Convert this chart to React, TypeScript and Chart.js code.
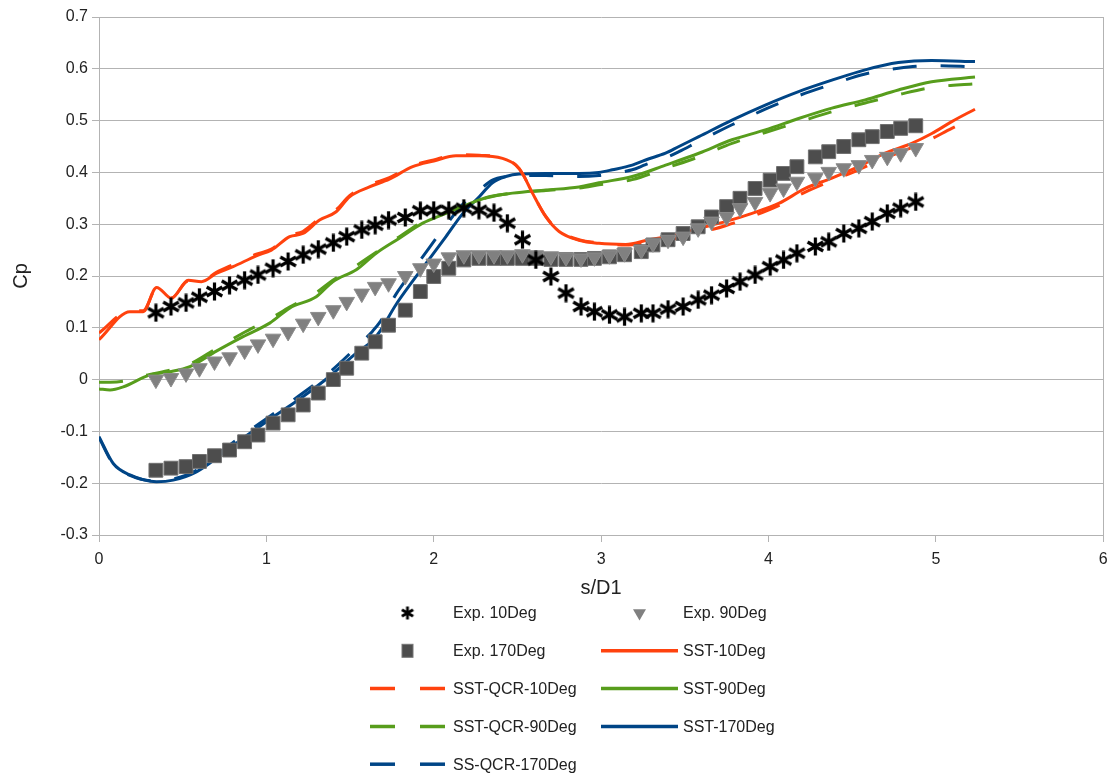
import React, { useEffect, useRef } from 'react';
import { Chart, registerables } from 'chart.js';

Chart.register(...registerables);

const FONT = "'Liberation Sans', Arial, sans-serif";
const TEXT = '#222222';
const GRID = '#b3b3b3';

// ---------- axis ticks ----------
const xTicks = [0, 1, 2, 3, 4, 5, 6];
const yTicks = [-0.3, -0.2, -0.1, 0, 0.1, 0.2, 0.3, 0.4, 0.5, 0.6, 0.7];

// ---------- experimental stations (s/D1) ----------
const expS = [
  0.34, 0.43, 0.52, 0.6, 0.69, 0.78, 0.87, 0.95, 1.04, 1.13, 1.22, 1.31, 1.4, 1.48, 1.57, 1.65, 1.73, 1.83,
  1.92, 2.0, 2.09, 2.18, 2.27, 2.36, 2.44, 2.53, 2.61, 2.7, 2.79, 2.88, 2.96, 3.05, 3.14, 3.24, 3.31, 3.4,
  3.49, 3.58, 3.66, 3.75, 3.83, 3.92, 4.01, 4.09, 4.17, 4.28, 4.36, 4.45, 4.54, 4.62, 4.71, 4.79, 4.88,
];

const exp10Cp = [
  0.129, 0.141, 0.148, 0.159, 0.17, 0.182, 0.192, 0.202, 0.215, 0.228, 0.241, 0.252, 0.264, 0.276, 0.289, 0.298,
  0.308, 0.313, 0.326, 0.327, 0.327, 0.331, 0.327, 0.322, 0.302, 0.27, 0.231, 0.199, 0.167, 0.141, 0.131, 0.125,
  0.121, 0.128, 0.128, 0.136, 0.141, 0.154, 0.163, 0.176, 0.189, 0.202, 0.218, 0.231, 0.244, 0.257, 0.266, 0.282,
  0.292, 0.305, 0.321, 0.331, 0.343,
];

const exp90Cp = [
  0.0, 0.003, 0.012, 0.022, 0.035, 0.043, 0.056, 0.068, 0.079, 0.092, 0.108, 0.121, 0.134, 0.15, 0.166, 0.179,
  0.186, 0.2, 0.215, 0.224, 0.236, 0.24, 0.24, 0.24, 0.24, 0.242, 0.24, 0.238, 0.236, 0.234, 0.236, 0.24, 0.244,
  0.25, 0.263, 0.27, 0.276, 0.292, 0.305, 0.314, 0.331, 0.343, 0.36, 0.369, 0.382, 0.389, 0.401, 0.408, 0.414,
  0.424, 0.43, 0.437, 0.447,
];

const exp170Cp = [
  -0.175, -0.171, -0.168, -0.158, -0.147, -0.136, -0.12, -0.107, -0.084, -0.068, -0.049, -0.026, 0.0, 0.022,
  0.051, 0.073, 0.105, 0.134, 0.17, 0.199, 0.215, 0.231, 0.234, 0.234, 0.234, 0.234, 0.234, 0.232, 0.232,
  0.232, 0.234, 0.237, 0.241, 0.247, 0.26, 0.27, 0.282, 0.295, 0.314, 0.334, 0.35, 0.369, 0.385, 0.398, 0.411,
  0.43, 0.44, 0.45, 0.463, 0.469, 0.479, 0.485, 0.49,
];

// ---------- 10 deg simulations ----------
const sim10S = [
  0.0, 0.185, 0.264, 0.344, 0.433, 0.533, 0.612, 0.701, 0.801, 0.94, 1.03, 1.139, 1.218, 1.318, 1.417, 1.497,
  1.616, 1.735, 1.874, 2.0, 2.133, 2.272, 2.411, 2.491, 2.53, 2.59, 2.67, 2.749, 2.868, 2.987, 3.147, 3.286,
  3.445, 3.584, 3.743, 3.902, 4.061, 4.22, 4.379, 4.538, 4.697, 4.856, 4.976, 5.095, 5.234,
];
const sst10Cp = [
  0.077, 0.131, 0.131, 0.178, 0.157, 0.192, 0.189, 0.205, 0.218, 0.239, 0.25, 0.276, 0.282, 0.308, 0.324, 0.353,
  0.372, 0.387, 0.411, 0.422, 0.432, 0.432, 0.427, 0.414, 0.398, 0.36, 0.314, 0.286, 0.269, 0.263, 0.261, 0.27,
  0.279, 0.292, 0.305, 0.321, 0.34, 0.369, 0.389, 0.411, 0.437, 0.456, 0.475, 0.498, 0.522,
];
const qcr10Cp = [
  0.09, 0.133, 0.133, 0.176, 0.158, 0.19, 0.19, 0.207, 0.222, 0.242, 0.252, 0.278, 0.286, 0.311, 0.328, 0.355,
  0.376, 0.39, 0.413, 0.424, 0.434, 0.433, 0.428, 0.414, 0.398, 0.36, 0.315, 0.287, 0.27, 0.264, 0.26, 0.265,
  0.272, 0.283, 0.297, 0.315, 0.336, 0.362, 0.384, 0.405, 0.428, 0.448, 0.465, 0.485, 0.505,
];

// ---------- 90 deg simulations ----------
const sim90S = [
  0.0, 0.066, 0.145, 0.304, 0.423, 0.543, 0.701, 0.861, 1.02, 1.139, 1.298, 1.397, 1.537, 1.656, 1.795, 1.934,
  2.073, 2.192, 2.331, 2.471, 2.67, 2.868, 2.987, 3.186, 3.385, 3.584, 3.782, 3.981, 4.18, 4.379, 4.578, 4.776,
  4.975, 5.234,
];
const sst90Cp = [
  -0.018, -0.02, -0.014, 0.009, 0.015, 0.025, 0.055, 0.083, 0.109, 0.138, 0.16, 0.189, 0.212, 0.244, 0.273,
  0.302, 0.321, 0.337, 0.353, 0.36, 0.366, 0.372, 0.38, 0.392, 0.414, 0.437, 0.463, 0.482, 0.504, 0.524, 0.54,
  0.559, 0.575, 0.584,
];
const qcr90Cp = [
  -0.005, -0.005, -0.003, 0.01, 0.018, 0.03, 0.06, 0.09, 0.117, 0.14, 0.168, 0.192, 0.22, 0.246, 0.276, 0.305,
  0.323, 0.338, 0.352, 0.36, 0.365, 0.37, 0.376, 0.386, 0.408, 0.43, 0.456, 0.477, 0.497, 0.517, 0.534, 0.55,
  0.564, 0.571,
];

// ---------- 170 deg simulations ----------
const sim170S = [
  0.0, 0.085, 0.185, 0.344, 0.443, 0.582, 0.741, 0.9, 1.06, 1.218, 1.377, 1.537, 1.636, 1.676, 1.775, 1.874,
  1.974, 2.073, 2.172, 2.272, 2.351, 2.431, 2.51, 2.67, 2.868, 2.987, 3.067, 3.186, 3.266, 3.385, 3.465, 3.584,
  3.782, 3.981, 4.18, 4.379, 4.578, 4.776, 4.975, 5.234,
];
const sst170Cp = [
  -0.11, -0.162, -0.184, -0.197, -0.194, -0.178, -0.142, -0.104, -0.068, -0.033, 0.006, 0.051, 0.076, 0.092,
  0.145, 0.19, 0.233, 0.276, 0.32, 0.353, 0.38, 0.392, 0.397, 0.398, 0.398, 0.4, 0.405, 0.414, 0.424, 0.437,
  0.45, 0.469, 0.501, 0.53, 0.556, 0.578, 0.598, 0.612, 0.616, 0.614,
];
const qcr170Cp = [
  -0.112, -0.163, -0.185, -0.196, -0.192, -0.175, -0.136, -0.098, -0.062, -0.026, 0.014, 0.062, 0.094, 0.11,
  0.165, 0.21, 0.255, 0.298, 0.338, 0.366, 0.385, 0.392, 0.394, 0.394, 0.392, 0.394, 0.398, 0.405, 0.415, 0.428,
  0.44, 0.46, 0.492, 0.522, 0.548, 0.57, 0.59, 0.601, 0.606, 0.604,
];

const labels = [
  'Exp. 10Deg',
  'Exp. 90Deg',
  'Exp. 170Deg',
  'SST-10Deg',
  'SST-QCR-10Deg',
  'SST-90Deg',
  'SST-QCR-90Deg',
  'SST-170Deg',
  'SS-QCR-170Deg',
];

const ORANGE = '#ff420e';
const GREEN = '#579d1c';
const BLUE = '#004586';

const toXY = (xs: number[], ys: number[]) => xs.map((x, i) => ({ x, y: ys[i] }));

function makeAsterisk(size: number, lw: number): HTMLCanvasElement {
  const c = document.createElement('canvas');
  c.width = size;
  c.height = size;
  const g = c.getContext('2d')!;
  g.strokeStyle = '#000';
  g.lineWidth = lw;
  g.lineCap = 'butt';
  const cx = size / 2;
  const cy = size / 2;
  const r = size / 2 - 0.5;
  for (const a of [90, 30, -30]) {
    const rad = (a * Math.PI) / 180;
    g.beginPath();
    g.moveTo(cx - r * Math.cos(rad), cy - r * Math.sin(rad));
    g.lineTo(cx + r * Math.cos(rad), cy + r * Math.sin(rad));
    g.stroke();
  }
  return c;
}

function drawLegendMarker(ctx: CanvasRenderingContext2D, kind: string, x: number, y: number, img: HTMLCanvasElement) {
  if (kind === 'asterisk') {
    ctx.drawImage(img, x - img.width / 2, y - img.height / 2);
  } else if (kind === 'triangle') {
    const r = 7.5;
    ctx.beginPath();
    ctx.moveTo(x, y + r);
    ctx.lineTo(x - r * Math.sin(Math.PI / 3), y - r / 2);
    ctx.lineTo(x + r * Math.sin(Math.PI / 3), y - r / 2);
    ctx.closePath();
    ctx.fillStyle = '#808080';
    ctx.fill();
  } else if (kind === 'rect') {
    ctx.fillStyle = '#4d4d4d';
    ctx.fillRect(x - 5.5, y - 6.5, 11, 13);
    ctx.strokeStyle = '#777';
    ctx.lineWidth = 1;
    ctx.strokeRect(x - 5.5, y - 6.5, 11, 13);
  }
}

export default function App() {
  const ref = useRef<HTMLCanvasElement | null>(null);

  useEffect(() => {
    if (!ref.current) return;
    const star = makeAsterisk(19, 3.2);
    const legendStar = makeAsterisk(14, 2.8);

    const lineDs = (label: string, xs: number[], ys: number[], color: string, dashed: boolean) => ({
      label,
      data: toXY(xs, ys),
      showLine: true,
      borderColor: color,
      backgroundColor: color,
      borderWidth: 3,
      borderDash: dashed ? [24, 24] : [],
      borderCapStyle: 'butt' as const,
      pointRadius: 0,
      cubicInterpolationMode: 'monotone' as const,
      legendKind: 'line',
    });

    const gridLegend = {
      id: 'gridLegend',
      afterDraw(chart: any) {
        const ctx: CanvasRenderingContext2D = chart.ctx;
        const cols = [
          { x0: 370, x1: 445, tx: 453 },
          { x0: 601, x1: 678, tx: 683 },
        ];
        const rowY0 = 613;
        const rowStep = 37.8;
        chart.data.datasets.forEach((ds: any, i: number) => {
          const col = cols[i % 2];
          const y = rowY0 + Math.floor(i / 2) * rowStep;
          ctx.save();
          if (ds.legendKind === 'line') {
            ctx.strokeStyle = ds.borderColor;
            ctx.lineWidth = 3.5;
            ctx.lineCap = 'butt';
            ctx.setLineDash(ds.borderDash && ds.borderDash.length ? [25, 25] : []);
            ctx.beginPath();
            ctx.moveTo(col.x0, y);
            ctx.lineTo(col.x1, y);
            ctx.stroke();
          } else {
            drawLegendMarker(ctx, ds.legendKind, (col.x0 + col.x1) / 2, y, legendStar);
          }
          ctx.setLineDash([]);
          ctx.fillStyle = TEXT;
          ctx.font = `16px ${FONT}`;
          ctx.textBaseline = 'middle';
          ctx.textAlign = 'left';
          ctx.fillText(ds.label, col.tx, y + 1);
          ctx.restore();
        });
      },
    };

    const chart = new Chart(ref.current, {
      type: 'scatter',
      data: {
        datasets: [
          {
            label: labels[0],
            data: toXY(expS, exp10Cp),
            pointStyle: star,
            pointRadius: 9,
            showLine: false,
            borderColor: '#000',
            backgroundColor: '#000',
            legendKind: 'asterisk',
          } as any,
          {
            label: labels[1],
            data: toXY(expS, exp90Cp),
            pointStyle: 'triangle',
            rotation: 180,
            pointRadius: 9,
            showLine: false,
            backgroundColor: '#808080',
            borderColor: '#8c8c8c',
            borderWidth: 1,
            legendKind: 'triangle',
          } as any,
          {
            label: labels[2],
            data: toXY(expS, exp170Cp),
            pointStyle: 'rect',
            pointRadius: 9.8,
            showLine: false,
            backgroundColor: '#4d4d4d',
            borderColor: '#707070',
            borderWidth: 1,
            legendKind: 'rect',
          } as any,
          lineDs(labels[3], sim10S, sst10Cp, ORANGE, false),
          lineDs(labels[4], sim10S, qcr10Cp, ORANGE, true),
          lineDs(labels[5], sim90S, sst90Cp, GREEN, false),
          lineDs(labels[6], sim90S, qcr90Cp, GREEN, true),
          lineDs(labels[7], sim170S, sst170Cp, BLUE, false),
          lineDs(labels[8], sim170S, qcr170Cp, BLUE, true),
        ] as any,
      },
      options: {
        responsive: false,
        animation: false,
        events: [],
        layout: { padding: { left: 0, right: 9, top: 17, bottom: 174 } },
        plugins: {
          legend: { display: false },
          tooltip: { enabled: false },
        },
        scales: {
          x: {
            type: 'linear',
            min: xTicks[0],
            max: xTicks[xTicks.length - 1],
            afterBuildTicks: (s: any) => {
              s.ticks = xTicks.map((v) => ({ value: v }));
            },
            afterFit: (s: any) => {
              s.height = 69;
              s.paddingRight = 0;
              s.paddingLeft = 0;
            },
            ticks: {
              color: TEXT,
              font: { family: FONT, size: 16 },
              padding: 8,
              maxRotation: 0,
              callback: (v: any) => String(v),
            },
            grid: {
              color: (c: any) => (c.tick && c.tick.value === 6 ? GRID : 'rgba(0,0,0,0)'),
              tickColor: GRID,
              tickLength: 7,
              lineWidth: 1,
            },
            border: { color: GRID, width: 1 },
            title: {
              display: true,
              text: 's/D1',
              color: TEXT,
              font: { family: FONT, size: 20 },
              padding: { top: 4, bottom: 4 },
            },
          },
          y: {
            type: 'linear',
            min: yTicks[0],
            max: yTicks[yTicks.length - 1],
            afterBuildTicks: (s: any) => {
              s.ticks = yTicks.map((v) => ({ value: v }));
            },
            afterFit: (s: any) => {
              s.width = 99;
            },
            ticks: {
              color: TEXT,
              font: { family: FONT, size: 16 },
              padding: 4,
              callback: (v: any) => String(Number(Number(v).toFixed(1))),
            },
            grid: {
              color: GRID,
              tickColor: GRID,
              tickLength: 7,
              lineWidth: 1,
            },
            border: { color: GRID, width: 1 },
            title: {
              display: true,
              text: 'Cp',
              color: TEXT,
              font: { family: FONT, size: 20 },
              padding: { top: 9, bottom: 4 },
            },
          },
        },
      } as any,
      plugins: [gridLegend],
    });

    return () => chart.destroy();
  }, []);

  return (
    <div style={{ position: 'fixed', left: 0, top: 0, width: 1114, height: 778, background: '#fff' }}>
      <canvas ref={ref} width={1114} height={778} style={{ display: 'block' }} />
    </div>
  );
}
